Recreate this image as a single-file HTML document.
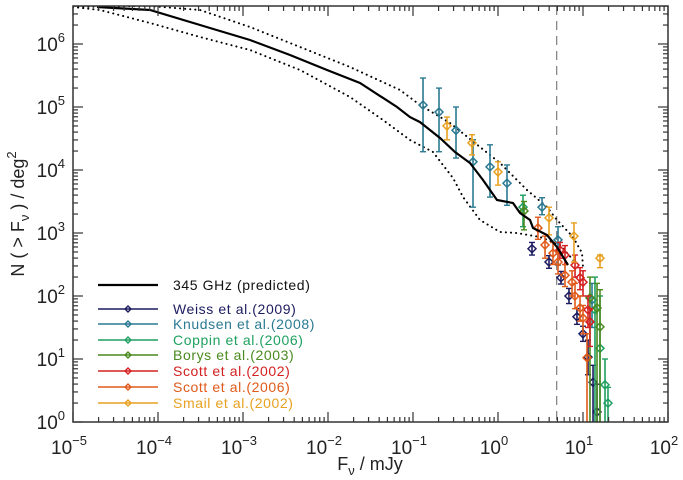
<!DOCTYPE html>
<html><head><meta charset="utf-8"><style>
html,body{margin:0;padding:0;background:#fff;}
svg{display:block;font-family:"Liberation Sans",sans-serif;}
</style></head><body>
<svg id="chart" width="683" height="480" viewBox="0 0 683 480"></svg>
<script>
// data in log10 units: [log10 F(mJy), log10 N]
const modelCurve=[[-4.718,6.587],[-4.094,6.54],[-3.388,6.254],[-2.918,6.063],[-2.447,5.825],[-2.012,5.587],[-1.624,5.381],[-1.188,5.0],[-1.035,4.84],[-0.918,4.76],[-0.682,4.508],[-0.506,4.286],[-0.329,4.111],[-0.176,3.841],[-0.012,3.524],[0.176,3.476],[0.259,3.317],[0.376,3.206],[0.412,3.079],[0.576,2.968],[0.694,2.778],[0.824,2.492]];
const upperBound=[[-5,6.587],[-4.094,6.603],[-3.506,6.54],[-2.918,6.27],[-2.329,5.952],[-1.741,5.635],[-1.153,5.27],[-0.918,5.032],[-0.565,4.746],[-0.212,4.365],[0.024,4.111],[0.341,3.683],[0.576,3.413],[0.694,3.206],[0.882,2.937],[0.988,2.683],[1.0,2.46]];
const lowerBound=[[-5,6.587],[-4.682,6.54],[-4.094,6.333],[-3.506,6.111],[-2.918,5.905],[-2.329,5.587],[-1.741,5.159],[-1.353,4.794],[-1.035,4.476],[-0.765,4.286],[-0.529,3.873],[-0.412,3.571],[-0.212,3.206],[0.024,3.016],[0.224,3.0],[0.494,2.937],[0.729,2.81],[0.906,2.54]];
const cutLine=0.69;
// [logx, logy, logLo, logHi]
const weiss=[[0.4,2.75,2.65,2.85],[0.6,2.54,2.44,2.64],[0.741,2.29,2.19,2.39],[0.835,2.0,1.88,2.12],[0.929,1.67,1.55,1.8],[1.0,1.4,1.28,1.52],[1.059,1.03,0.75,1.3],[1.118,0.63,0,0.9],[1.165,0.16,0,0.6]];
const knudsen=[[-0.882,5.03,4.29,5.46],[-0.694,4.92,4.29,5.3],[-0.494,4.63,4.19,5.0],[-0.294,4.13,3.41,4.48],[-0.094,4.05,3.57,4.4],[0.106,3.79,3.44,4.08],[0.518,3.41,3.29,3.56],[0.706,2.89,2.49,3.1],[1.106,1.94,1.5,2.2]];
const coppin=[[0.294,3.41,3.1,3.6],[1.141,1.78,0,2.3],[1.2,1.17,0,2.0],[1.259,0.59,0,1.0],[1.294,0.3,0,0.55]];
const borys=[[0.306,3.35,3.05,3.5],[1.082,1.97,0,2.3],[1.165,1.81,0,2.2],[1.2,1.51,0,2.1]];
const scott02=[[0.729,2.73,2.6,2.85],[0.788,2.65,2.5,2.8],[0.906,2.49,2.3,2.65],[0.965,2.29,2.1,2.45],[1.0,2.22,2.0,2.4],[1.059,1.78,1.5,2.0],[1.082,1.59,1.2,1.8]];
const scott06=[[0.47,3.08,2.9,3.25],[0.553,2.81,2.6,2.95],[0.647,2.68,2.5,2.85],[0.706,2.54,2.35,2.7],[0.788,2.33,2.15,2.5],[0.871,2.22,2.0,2.4],[0.906,2.0,1.8,2.2],[0.965,1.81,1.6,2.0],[1.0,1.65,1.4,1.85],[1.047,1.02,0,1.4]];
const smail=[[-0.6,4.7,4.48,4.84],[-0.306,4.43,4.24,4.56],[0,3.97,3.76,4.13],[0.6,3.24,2.97,3.41],[0.894,2.95,2.54,3.16],[1.2,2.6,2.45,2.65]];
const seriesNames=["Weiss et al.(2009)","Knudsen et al.(2008)","Coppin et al.(2006)","Borys et al.(2003)","Scott et al.(2002)","Scott et al.(2006)","Smail et al.(2002)"];
const seriesColors=["#1c1c60","#2a7a92","#1fa060","#4a8a1f","#d42020","#e05a1a","#e8a020"];
const seriesData=[weiss,knudsen,coppin,borys,scott02,scott06,smail];
const xTickExps=[-5,-4,-3,-2,-1,0,1,2];
const yTickExps=[0,1,2,3,4,5,6];

const L=73,R=668,T=6,B=422;
const X0=-5,X1=2,Y0=0,Y1=(B-T)/63;
const sx=v=>L+(v-X0)/(X1-X0)*(R-L);
const sy=v=>B-(v-Y0)/(Y1-Y0)*(B-T);
const svg=document.getElementById('chart');
const NS='http://www.w3.org/2000/svg';
function mk(tag,attrs,parent){const e=document.createElementNS(NS,tag);for(const k in attrs)e.setAttribute(k,attrs[k]);(parent||svg).appendChild(e);return e;}
const clip=mk('clipPath',{id:'pc'});mk('rect',{x:L,y:T,width:R-L,height:B-T},clip);
const plot=mk('g',{'clip-path':'url(#pc)'});


function path(pts){return pts.map((p,i)=>(i?'L':'M')+sx(p[0]).toFixed(1)+','+sy(p[1]).toFixed(1)).join('');}
const dl=mk('line',{x1:sx(cutLine),x2:sx(cutLine),y1:T,y2:B,stroke:'#888','stroke-width':1.3,'stroke-dasharray':'9,6'},plot);


const ub=mk('path',{d:path(upperBound),fill:'none',stroke:'#000','stroke-width':2,'stroke-dasharray':'0.1,5','stroke-linecap':'round'},plot);


const lb=mk('path',{d:path(lowerBound),fill:'none',stroke:'#000','stroke-width':2,'stroke-dasharray':'0.1,5','stroke-linecap':'round'},plot);


seriesData.forEach((d,si)=>{
  const g=mk('g',{},plot);
  
  
  const c=seriesColors[si];
  d.forEach(p=>{
    const x=sx(p[0]),y=sy(p[1]),yl=sy(p[2]),yh=sy(p[3]);
    mk('line',{x1:x,x2:x,y1:yl,y2:yh,stroke:c,'stroke-width':1.6},g);
    mk('line',{x1:x-3,x2:x+3,y1:yh,y2:yh,stroke:c,'stroke-width':1.4},g);
    if(p[2]>0)mk('line',{x1:x-3,x2:x+3,y1:yl,y2:yl,stroke:c,'stroke-width':1.4},g);
    const m=mk('path',{d:`M${x},${y-4}L${x+4},${y}L${x},${y+4}L${x-4},${y}Z`,fill:'none',stroke:c,'stroke-width':1.5},g);
    
    
  });
});
const mc=mk('path',{d:path(modelCurve),fill:'none',stroke:'#000','stroke-width':2.2},plot);


const fr=mk('rect',{x:L,y:T,width:R-L,height:B-T,fill:'none',stroke:'#333','stroke-width':1.5});


const tg=mk('g',{stroke:'#333','stroke-width':1.2});


xTickExps.forEach(e=>{
  const x=sx(e);
  mk('line',{x1:x,x2:x,y1:B,y2:B-10},tg);mk('line',{x1:x,x2:x,y1:T,y2:T+10},tg);
  if(e<X1)for(let k=2;k<10;k++){const xm=sx(e+Math.log10(k));mk('line',{x1:xm,x2:xm,y1:B,y2:B-5},tg);mk('line',{x1:xm,x2:xm,y1:T,y2:T+5},tg);}
  const t=mk('text',{x:x-4,y:B+32,'font-size':19,'text-anchor':'middle',fill:'#222'});
  
  
  t.innerHTML='10<tspan dy="-9" font-size="13">'+(e<0?'\u2212'+(-e):e)+'</tspan>';
});
yTickExps.forEach(e=>{
  const y=sy(e);
  mk('line',{x1:L,x2:L+10,y1:y,y2:y},tg);mk('line',{x1:R,x2:R-10,y1:y,y2:y},tg);
  for(let k=2;k<10;k++){const v=e+Math.log10(k);if(v>Y1)break;const ym=sy(v);mk('line',{x1:L,x2:L+5,y1:ym,y2:ym},tg);mk('line',{x1:R,x2:R-5,y1:ym,y2:ym},tg);}
  const t=mk('text',{x:L-8,y:y+7,'font-size':19,'text-anchor':'end',fill:'#222'});
  
  
  t.innerHTML='10<tspan dy="-9" font-size="13">'+e+'</tspan>';
});
const xt=mk('text',{x:370,y:470,'font-size':18,'text-anchor':'middle',fill:'#222'});


xt.innerHTML='F<tspan dy="5" font-size="13">\u03bd</tspan><tspan dy="-5"> / mJy</tspan>';
const yt=mk('text',{x:0,y:0,'font-size':18,'text-anchor':'middle',fill:'#222',transform:'translate(24,214) rotate(-90)'});


yt.innerHTML='N ( &gt; F<tspan dy="5" font-size="13">\u03bd</tspan><tspan dy="-5"> ) / deg</tspan><tspan dy="-8" font-size="13">2</tspan>';
const lg=mk('g',{});


const e0=mk('g',{},lg);


mk('line',{x1:98,x2:158,y1:285,y2:285,stroke:'#000','stroke-width':2.2},e0);
mk('text',{x:173,y:290,'font-size':14,'letter-spacing':'0.6',fill:'#111'},e0).textContent='345 GHz (predicted)';
const legY=[309,324,340,355,371,387,403];
seriesNames.forEach((n,i)=>{
  const g=mk('g',{},lg);
  
  
  const c=seriesColors[i],y=legY[i];
  mk('line',{x1:98,x2:158,y1:y,y2:y,stroke:c,'stroke-width':1.5},g);
  mk('path',{d:`M128,${y-3}L131,${y}L128,${y+3}L125,${y}Z`,fill:'none',stroke:c,'stroke-width':1.4},g);
  mk('text',{x:173,y:y+5,'font-size':14,'letter-spacing':'0.6',fill:c},g).textContent=n;
});
</script>
</body></html>
